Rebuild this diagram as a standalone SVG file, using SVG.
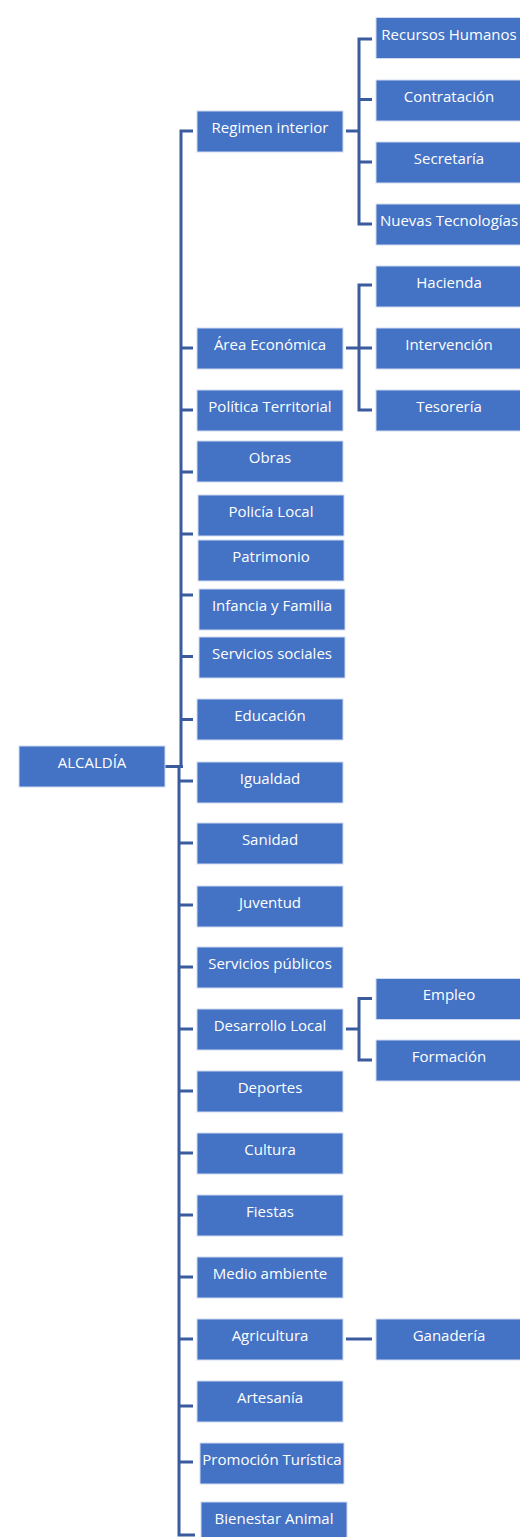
<svg xmlns="http://www.w3.org/2000/svg" width="520" height="1537" viewBox="0 0 520 1537">
<style>
.b{fill:#4472c4;stroke:#d0dbf0;stroke-width:1}
.t{fill:#ffffff;font-family:"Open Sans","Noto Sans","Liberation Sans",sans-serif;font-size:15px;text-anchor:middle}
.c{fill:none;stroke:#3a5b9e;stroke-width:3}
</style>
<rect width="520" height="1537" fill="#ffffff"/>
<g id="connectors" class="c">
<path d="M193,131 H181 V767"/>
<path d="M179,766 V1535 H195"/>
<path d="M165,766.5 H183"/>
<path d="M181,348 H193 M181,410 H193 M181,472 H193 M181,534 H193 M181,595 H193 M181,656.5 H193 M181,719.5 H193"/>
<path d="M179,781 H193 M179,843 H193 M179,905 H193 M179,967 H193 M179,1029 H193 M179,1091 H193 M179,1153 H193 M179,1215 H193 M179,1277 H193 M179,1339 H193 M179,1406 H193 M179,1462 H193"/>
<path d="M346,131 H359 M372,39 H359 V224 H372 M359,99.5 H372 M359,162 H372"/>
<path d="M346,348 H372 M372,285 H359 V410 H372"/>
<path d="M346,1029 H359 M372,998.5 H359 V1060 H372"/>
<path d="M346,1339 H372"/>
</g>
<g id="alcaldia"><rect class="b" x="19" y="746" width="146" height="41"/><text class="t" x="92" y="768">ALCALDÍA</text></g>
<g id="regimen-interior"><rect class="b" x="197" y="111" width="146" height="41"/><text class="t" x="270" y="133">Regimen interior</text></g>
<g id="area-economica"><rect class="b" x="197" y="328" width="146" height="41"/><text class="t" x="270" y="350">Área Económica</text></g>
<g id="politica-territorial"><rect class="b" x="197" y="390" width="146" height="41"/><text class="t" x="270" y="412">Política Territorial</text></g>
<g id="obras"><rect class="b" x="197" y="441" width="146" height="41"/><text class="t" x="270" y="463">Obras</text></g>
<g id="policia-local"><rect class="b" x="198" y="495" width="146" height="41"/><text class="t" x="271" y="517">Policía Local</text></g>
<g id="patrimonio"><rect class="b" x="198" y="540" width="146" height="41"/><text class="t" x="271" y="562">Patrimonio</text></g>
<g id="infancia-familia"><rect class="b" x="199" y="589" width="146" height="41"/><text class="t" x="272" y="611">Infancia y Familia</text></g>
<g id="servicios-sociales"><rect class="b" x="199" y="637" width="146" height="41"/><text class="t" x="272" y="659">Servicios sociales</text></g>
<g id="educacion"><rect class="b" x="197" y="699" width="146" height="41"/><text class="t" x="270" y="721">Educación</text></g>
<g id="igualdad"><rect class="b" x="197" y="762" width="146" height="41"/><text class="t" x="270" y="784">Igualdad</text></g>
<g id="sanidad"><rect class="b" x="197" y="823" width="146" height="41"/><text class="t" x="270" y="845">Sanidad</text></g>
<g id="juventud"><rect class="b" x="197" y="886" width="146" height="41"/><text class="t" x="270" y="908">Juventud</text></g>
<g id="servicios-publicos"><rect class="b" x="197" y="947" width="146" height="41"/><text class="t" x="270" y="969">Servicios públicos</text></g>
<g id="desarrollo-local"><rect class="b" x="197" y="1009" width="146" height="41"/><text class="t" x="270" y="1031">Desarrollo Local</text></g>
<g id="deportes"><rect class="b" x="197" y="1071" width="146" height="41"/><text class="t" x="270" y="1093">Deportes</text></g>
<g id="cultura"><rect class="b" x="197" y="1133" width="146" height="41"/><text class="t" x="270" y="1155">Cultura</text></g>
<g id="fiestas"><rect class="b" x="197" y="1195" width="146" height="41"/><text class="t" x="270" y="1217">Fiestas</text></g>
<g id="medio-ambiente"><rect class="b" x="197" y="1257" width="146" height="41"/><text class="t" x="270" y="1279">Medio ambiente</text></g>
<g id="agricultura"><rect class="b" x="197" y="1319" width="146" height="41"/><text class="t" x="270" y="1341">Agricultura</text></g>
<g id="artesania"><rect class="b" x="197" y="1381" width="146" height="41"/><text class="t" x="270" y="1403">Artesanía</text></g>
<g id="promocion-turistica"><rect class="b" x="200" y="1443" width="144" height="41"/><text class="t" x="272" y="1465">Promoción Turística</text></g>
<g id="bienestar-animal"><rect class="b" x="201" y="1502" width="146" height="41"/><text class="t" x="274" y="1524">Bienestar Animal</text></g>
<g id="recursos-humanos"><rect class="b" x="376" y="17.5" width="146" height="41"/><text class="t" x="449" y="40">Recursos Humanos</text></g>
<g id="contratacion"><rect class="b" x="376" y="80" width="146" height="41"/><text class="t" x="449" y="102">Contratación</text></g>
<g id="secretaria"><rect class="b" x="376" y="142" width="146" height="41"/><text class="t" x="449" y="164">Secretaría</text></g>
<g id="nuevas-tecnologias"><rect class="b" x="376" y="204" width="146" height="41"/><text class="t" x="449" y="226">Nuevas Tecnologías</text></g>
<g id="hacienda"><rect class="b" x="376" y="266" width="146" height="41"/><text class="t" x="449" y="288">Hacienda</text></g>
<g id="intervencion"><rect class="b" x="376" y="328" width="146" height="41"/><text class="t" x="449" y="350">Intervención</text></g>
<g id="tesoreria"><rect class="b" x="376" y="390" width="146" height="41"/><text class="t" x="449" y="412">Tesorería</text></g>
<g id="empleo"><rect class="b" x="376" y="978.5" width="146" height="41"/><text class="t" x="449" y="1000">Empleo</text></g>
<g id="formacion"><rect class="b" x="376" y="1040" width="146" height="41"/><text class="t" x="449" y="1062">Formación</text></g>
<g id="ganaderia"><rect class="b" x="376" y="1319" width="146" height="41"/><text class="t" x="449" y="1341">Ganadería</text></g>
</svg>
